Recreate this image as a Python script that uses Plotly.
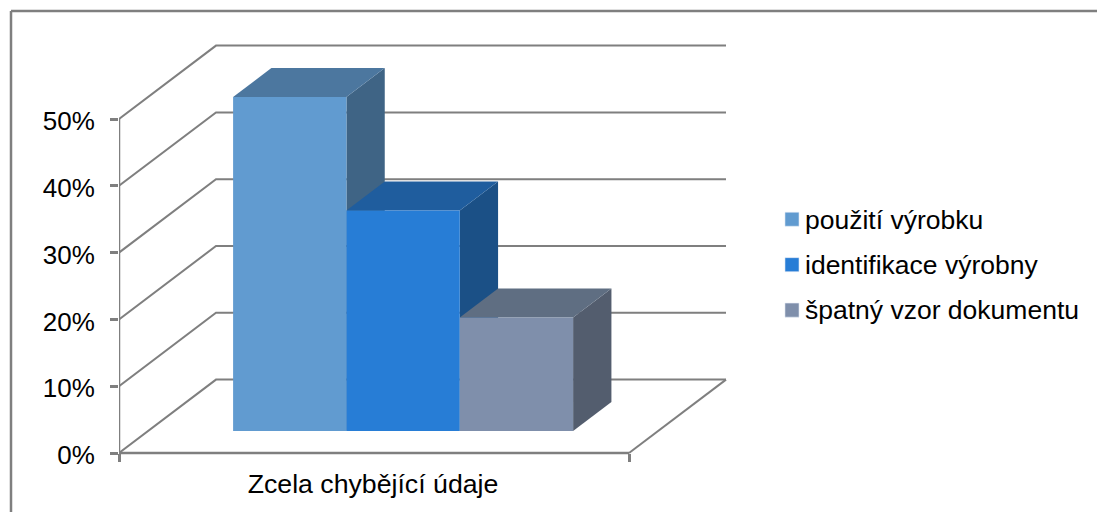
import plotly.graph_objects as go

# ---- data ----
categories = ["Zcela chybějící údaje"]
series_names = ["použití výrobku", "identifikace výrobny", "špatný vzor dokumentu"]
series_values = [50, 33, 17]
y_ticks = [0, 10, 20, 30, 40, 50]
y_tick_labels = ["0%", "10%", "20%", "30%", "40%", "50%"]

# ---- styles ----
front_colors = ["#619BD0", "#277DD6", "#7F8FAB"]
top_colors = ["#4C779F", "#1F5D9E", "#5F6E82"]
side_colors = ["#3F6485", "#1B5086", "#535D6E"]
GREY = "#7F7F7F"
FONT = "Liberation Sans"

W, H = 1097, 512
L = 119            # pixel of the value axis
AX_W = 510         # pixels of one category along x
PX_PER_UNIT = 6.68 # pixels per percent
Y0 = 453           # pixel of 0 %
DEPTH_X = 97 / AX_W
DEPTH_Y = 73.4 / PX_PER_UNIT
BAR_START = 1 / 6
BAR_W = 2 / 9
D_FRONT = 0.30
D_BACK = 0.695


def proj(x, v, d):
    return x + d * DEPTH_X, v + d * DEPTH_Y


def poly(points):
    pts = [proj(*p) for p in points]
    pts.append(pts[0])
    return [p[0] for p in pts], [p[1] for p in pts]


fig = go.Figure()

# walls: side line on the left wall + line on the back wall, per gridline
for t in y_ticks:
    xs, ys = zip(proj(0, t, 0), proj(0, t, 1), proj(1, t, 1))
    fig.add_trace(go.Scatter(x=xs, y=ys, mode="lines", showlegend=False, hoverinfo="skip",
                             line=dict(color=GREY, width=2)))
# right floor edge
xs, ys = zip(proj(1, 0, 0), proj(1, 0, 1))
fig.add_trace(go.Scatter(x=xs, y=ys, mode="lines", showlegend=False, hoverinfo="skip",
                         line=dict(color=GREY, width=2)))
# value axis line and category axis line
xs, ys = zip(proj(0, y_ticks[0], 0), proj(0, y_ticks[-1], 0))
fig.add_trace(go.Scatter(x=xs, y=ys, mode="lines", showlegend=False, hoverinfo="skip",
                         line=dict(color=GREY, width=2.5)))
xs, ys = zip(proj(0, 0, 0), proj(1, 0, 0))
fig.add_trace(go.Scatter(x=xs, y=ys, mode="lines", showlegend=False, hoverinfo="skip",
                         line=dict(color=GREY, width=2.5)))

# 3-D bars
for i, (name, v) in enumerate(zip(series_names, series_values)):
    x0 = BAR_START + i * BAR_W
    x1 = x0 + BAR_W
    faces = [
        (side_colors[i], [(x1, 0, D_FRONT), (x1, 0, D_BACK), (x1, v, D_BACK), (x1, v, D_FRONT)]),
        (top_colors[i], [(x0, v, D_FRONT), (x1, v, D_FRONT), (x1, v, D_BACK), (x0, v, D_BACK)]),
        (front_colors[i], [(x0, 0, D_FRONT), (x1, 0, D_FRONT), (x1, v, D_FRONT), (x0, v, D_FRONT)]),
    ]
    for color, pts in faces:
        px, py = poly(pts)
        fig.add_trace(go.Scatter(x=px, y=py, mode="lines", fill="toself", fillcolor=color,
                                 line=dict(width=0), showlegend=False, hoverinfo="skip"))
    # legend entry
    fig.add_trace(go.Bar(x=[None], y=[None], name=name, marker_color=front_colors[i],
                         legendgroup=name, showlegend=True))

fig.update_layout(
    width=W, height=H, autosize=False,
    margin=dict(l=L, r=0, t=0, b=0, pad=0),
    paper_bgcolor="white", plot_bgcolor="white",
    font=dict(family=FONT, size=26, color="black"),
    xaxis=dict(range=[0, (W - L) / AX_W], showgrid=False, zeroline=False, showline=False,
               tickmode="array", tickvals=[0.5], ticktext=categories, ticks="",
               ticklen=0, anchor="free", position=(H - Y0) / H, ticklabelstandoff=12,
               ticklabelshift=-1,
               minor=dict(tickmode="array", tickvals=[0, 1], ticks="outside", ticklen=8,
                          tickcolor=GREY, tickwidth=2.5, showgrid=False),
               tickfont=dict(family=FONT, size=26.7, color="black")),
    yaxis=dict(range=[(Y0 - H) / PX_PER_UNIT, Y0 / PX_PER_UNIT], showgrid=False, zeroline=False,
               showline=False, tickmode="array", tickvals=y_ticks, ticktext=y_tick_labels,
               ticks="outside", ticklen=8, tickcolor=GREY, tickwidth=2.5, ticklabelstandoff=10,
               ticklabelshift=2,
               tickfont=dict(family=FONT, size=26, color="black")),
    legend=dict(x=(765 - L) / (W - L), xanchor="left", y=(H - 264) / H, yanchor="middle",
                font=dict(family=FONT, size=26.5, color="black"), tracegroupgap=8,
                bgcolor="rgba(0,0,0,0)", traceorder="grouped"),
    shapes=[
        dict(type="line", xref="paper", yref="paper", x0=(11 - L) / (W - L), x1=1,
             y0=(H - 11) / H, y1=(H - 11) / H, line=dict(color=GREY, width=2.5)),
        dict(type="line", xref="paper", yref="paper", x0=(11 - L) / (W - L), x1=(11 - L) / (W - L),
             y0=0, y1=(H - 11) / H, line=dict(color=GREY, width=2.5)),
    ],
)

post = """
document.body.style.margin = '0';
document.body.style.overflow = 'hidden';
var gd = document.getElementById('{plot_id}');
function nudge() {
  document.querySelectorAll('.legend .legendpoints').forEach(function (g) {
    g.setAttribute('transform', 'translate(3.6,1) scale(1.17)');
  });
}
nudge();
gd.on('plotly_afterplot', nudge);
setTimeout(nudge, 50);
"""
fig.write_html("out.html", post_script=post, config=dict(displayModeBar=False))
